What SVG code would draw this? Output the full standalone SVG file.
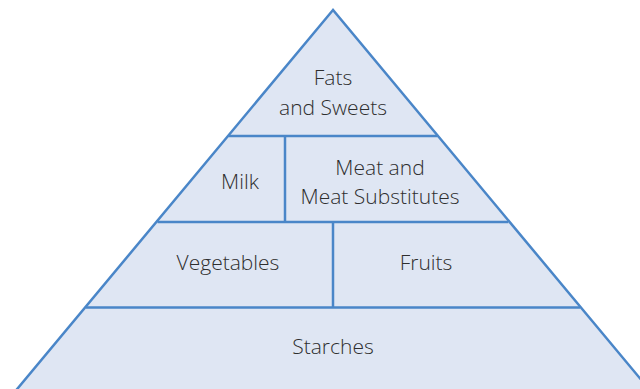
<svg xmlns="http://www.w3.org/2000/svg" width="640" height="389" viewBox="0 0 640 389">
<style>
.s{stroke:#4a86c8;stroke-width:2.5;fill:none}
.t{font-family:"Open Sans",Lato,sans-serif;font-size:21px;font-weight:300;fill:#2e2e2e;text-anchor:middle}
</style>
<rect width="640" height="389" fill="#fff"/>
<g id="pyramid">
<polygon points="333,10 8,400 658,400" fill="#dfe6f3" stroke="#4a86c8" stroke-width="2.5" stroke-linejoin="miter"/>
</g>
<g id="connectors">
<line class="s" x1="228.5" y1="136" x2="437.5" y2="136"/>
<line class="s" x1="157.5" y1="222" x2="508.5" y2="222"/>
<line class="s" x1="86" y1="307.5" x2="580" y2="307.5"/>
<line class="s" x1="285" y1="136" x2="285" y2="222"/>
<line class="s" x1="333" y1="222" x2="333" y2="307.5"/>
</g>
<g id="fats"><text class="t" x="333" y="85">Fats</text><text class="t" x="333" y="115">and Sweets</text></g>
<g id="milk"><text class="t" x="240" y="189">Milk</text></g>
<g id="meat"><text class="t" x="380" y="175">Meat and</text><text class="t" x="380" y="204">Meat Substitutes</text></g>
<g id="vegetables"><text class="t" x="228" y="270">Vegetables</text></g>
<g id="fruits"><text class="t" x="426" y="270">Fruits</text></g>
<g id="starches"><text class="t" x="333" y="354">Starches</text></g>
</svg>
